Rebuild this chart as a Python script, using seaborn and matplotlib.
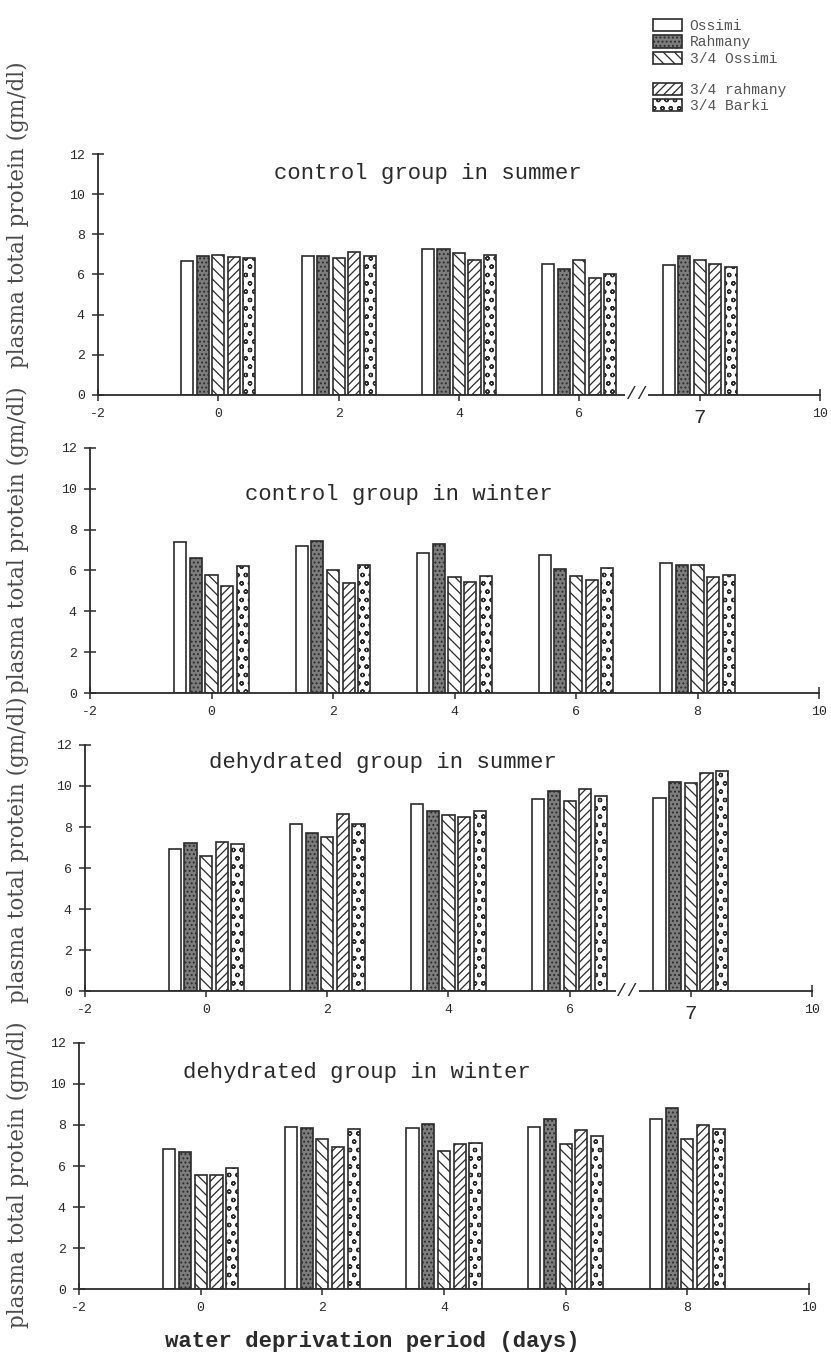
import numpy as np
import pandas as pd
import matplotlib
matplotlib.use("Agg")
import matplotlib.pyplot as plt
import seaborn as sns

# Water deprivation days (bar-group positions) and breeds (hue)
days = [0, 2, 4, 6, 8]
breeds = ["Ossimi", "Rahmany", "3/4 Ossimi", "3/4 rahmany", "3/4 Barki"]

# Plasma total protein (gm/dl); one row per day, one column per breed
control_summer = [
    [6.66, 6.90, 6.95, 6.88, 6.82],
    [6.93, 6.90, 6.82, 7.10, 6.90],
    [7.25, 7.25, 7.06, 6.74, 6.95],
    [6.53, 6.29, 6.71, 5.81, 6.02],
    [6.47, 6.90, 6.71, 6.50, 6.39],
]
control_winter = [
    [7.40, 6.59, 5.77, 5.24, 6.23],
    [7.20, 7.43, 6.02, 5.37, 6.26],
    [6.88, 7.28, 5.66, 5.45, 5.74],
    [6.75, 6.05, 5.72, 5.53, 6.10],
    [6.39, 6.29, 6.26, 5.69, 5.77],
]
dehydrated_summer = [
    [6.91, 7.20, 6.59, 7.28, 7.15],
    [8.13, 7.72, 7.53, 8.63, 8.13],
    [9.12, 8.80, 8.59, 8.50, 8.78],
    [9.37, 9.76, 9.27, 9.84, 9.53],
    [9.40, 10.20, 10.13, 10.65, 10.75],
]
dehydrated_winter = [
    [6.85, 6.68, 5.54, 5.54, 5.90],
    [7.90, 7.85, 7.32, 6.91, 7.80],
    [7.85, 8.05, 6.75, 7.07, 7.12],
    [7.90, 8.30, 7.07, 7.77, 7.48],
    [8.30, 8.83, 7.32, 8.02, 7.82],
]

panel_titles = [
    "control group in summer",
    "control group in winter",
    "dehydrated group in summer",
    "dehydrated group in winter",
]
tick_values = [-2, 0, 2, 4, 6, 8, 10]
ticks_summer = ["-2", "0", "2", "4", "6", "7", "10"]
ticks_winter = ["-2", "0", "2", "4", "6", "8", "10"]
y_ticks = [0, 2, 4, 6, 8, 10, 12]

panels = [
    (control_summer, ticks_summer, True),
    (control_winter, ticks_winter, False),
    (dehydrated_summer, ticks_summer, True),
    (dehydrated_winter, ticks_winter, False),
]

# Visual styling
sns.set_theme(style="white")
plt.rcParams["hatch.linewidth"] = 0.9
ink = "#2b2b2b"
mono = ["Liberation Mono", "DejaVu Sans Mono"]
serif = ["DejaVu Serif", "Liberation Serif"]

fills = ["white", "#7d7d7d", "white", "white", "white"]
hatches = ["", "....", "\\\\\\", "////", "oo"]

# Axes rectangles [left, bottom, width, height] in figure fractions
rects = [
    [0.1179, 0.7090, 0.8689, 0.1775],
    [0.1083, 0.4893, 0.8773, 0.1806],
    [0.1023, 0.2697, 0.8748, 0.1813],
    [0.0951, 0.0501, 0.8784, 0.1813],
]
title_pos = [(0.457, 0.92), (0.423, 0.81), (0.41, 0.93), (0.38, 0.88)]
ylabel_y = [1 - 215 / 1357, 1 - 540 / 1357, 1 - 850 / 1357, 1 - 1175 / 1357]

fig = plt.figure(figsize=(8.31, 13.57), dpi=100)

legend_handles = None
for i, (values, xticklabels, broken) in enumerate(panels):
    ax = fig.add_axes(rects[i])
    records = []
    for d, row in zip(days, values):
        for b, v in zip(breeds, row):
            records.append({"day": d, "breed": b, "protein": v})
    df = pd.DataFrame(records)

    sns.barplot(
        data=df, x="day", y="protein", hue="breed", hue_order=breeds,
        palette=fills, native_scale=True, width=0.645, gap=0.22,
        errorbar=None, edgecolor=ink, linewidth=1.2, ax=ax,
    )
    for container, h in zip(ax.containers, hatches):
        for patch in container:
            patch.set_hatch(h)
            patch.set_edgecolor(ink)

    if legend_handles is None:
        legend_handles = ax.get_legend().legend_handles
        for handle, h in zip(legend_handles, hatches):
            handle.set_hatch(h)
            handle.set_edgecolor(ink)
    ax.get_legend().remove()

    ax.set_xlim(-2, 10)
    ax.set_ylim(0, 12)
    ax.set_xticks(tick_values)
    ax.set_xticklabels(xticklabels)
    ax.set_yticks(y_ticks)
    ax.set_xlabel("")
    ax.set_ylabel("")
    for side in ("top", "right"):
        ax.spines[side].set_visible(False)
    for side in ("left", "bottom"):
        ax.spines[side].set_color(ink)
        ax.spines[side].set_linewidth(1.3)
    ax.tick_params(axis="both", bottom=True, left=True, direction="inout",
                   length=9, width=1.1, color=ink, labelcolor=ink,
                   labelsize=9.5, pad=5)
    for lab in ax.get_xticklabels() + ax.get_yticklabels():
        lab.set_family(mono)
    if broken:
        # the "7" under the last group and the axis break before it
        ax.get_xticklabels()[5].set_fontsize(15)
        ax.text(6.95, 0, "//", ha="center", va="center", fontsize=13,
                color=ink, family=mono,
                bbox=dict(boxstyle="square,pad=0.05", fc="white", ec="none"))

    ax.text(*title_pos[i], panel_titles[i], transform=ax.transAxes,
            ha="center", va="center", fontsize=16, family=mono, color=ink)
    fig.text(18 / 831, ylabel_y[i], "plasma total protein (gm/dl)",
             rotation=90, ha="center", va="center", fontsize=15.5,
             family=serif, color="#4a4a4a")

fig.text(372 / 831, 1 - 1341 / 1357, "water deprivation period (days)",
         ha="center", va="center", fontsize=16, family=mono,
         weight="bold", color=ink)

# Breed key, top right, in two blocks
leg_kw = dict(frameon=False, handlelength=2.0, handleheight=0.9,
              handletextpad=0.5, labelspacing=0.15,
              prop={"family": mono, "size": 10.5}, labelcolor="#555555")
fig.legend(legend_handles[:3], breeds[:3], loc="upper left",
           bbox_to_anchor=(640 / 831, 1 - 6 / 1357), **leg_kw)
fig.legend(legend_handles[3:], breeds[3:], loc="upper left",
           bbox_to_anchor=(640 / 831, 1 - 70 / 1357), **leg_kw)

fig.savefig("out.png", dpi=100, facecolor="white")
